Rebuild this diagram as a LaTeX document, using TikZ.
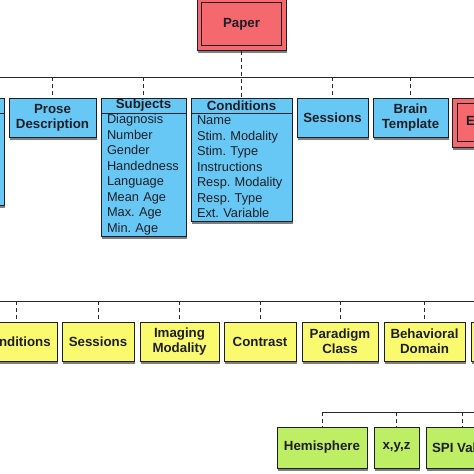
\documentclass[tikz,border=0pt]{standalone}
\usepackage{fontspec}
\setmainfont{Liberation Sans}
\frenchspacing
\usetikzlibrary{shadows}
\definecolor{redfill}{RGB}{245,104,110}
\definecolor{bluefill}{RGB}{104,200,245}
\definecolor{yelfill}{RGB}{250,250,110}
\definecolor{grnfill}{RGB}{190,238,100}
\definecolor{edgecol}{RGB}{30,30,38}
\definecolor{buscol}{RGB}{40,40,40}
\tikzset{
  boxbase/.style={draw=edgecol, line width=1pt, inner sep=0pt, align=center,
    text=edgecol, font=\fontsize{13.3}{15}\selectfont\bfseries,
    drop shadow={shadow xshift=0.6pt, shadow yshift=-3pt, opacity=0.5, fill=black}},
  bluenode/.style={boxbase, fill=bluefill},
  rednode/.style={boxbase, fill=redfill},
  yelnode/.style={boxbase, fill=yelfill, minimum height=39pt},
  grnnode/.style={boxbase, fill=grnfill, minimum height=41pt},
  hdrnode/.style={bluenode, minimum height=15pt},
  listnode/.style={bluenode, font=\fontsize{12.8}{15.5}\selectfont, align=left, inner xsep=6pt},
  bus/.style={draw=buscol, line width=0.9pt},
  dashlink/.style={draw=buscol, line width=1pt, dash pattern=on 4pt off 3pt},
  innerframe/.style={draw=edgecol, line width=1pt}
}
\begin{document}
\begin{tikzpicture}[x=1pt, y=-1pt]
\useasboundingbox (0,0) rectangle (474,474);

% ---------- root ----------
\node[rednode, minimum width=89pt, minimum height=52pt] (paper) at (241.5,24) {Paper};
\draw[innerframe] ([shift={(5pt,-5pt)}]paper.north west) rectangle ([shift={(-5pt,5pt)}]paper.south east);

% ---------- top row ----------
\node[hdrnode, minimum width=84pt] (lefth) at (-38,105.5) {};
\node[listnode, text width=72pt, minimum height=92pt] (leftb) at (-38,159) {};

\node[bluenode, minimum width=87pt, minimum height=39pt] (prose) at (52.5,117.5) {Prose\\Description};

\node[hdrnode, minimum width=85pt] (subjh) at (143.5,105.5) {Subjects};
\node[listnode, text width=73pt, minimum height=123pt] (subjb) at (143.5,174.5)
  {Diagnosis\\Number\\Gender\\Handedness\\Language\\Mean Age\\Max. Age\\Min. Age};

\node[hdrnode, minimum width=101pt] (condh) at (241.5,105.5) {Conditions};
\node[listnode, text width=89pt, minimum height=108pt] (condb) at (241.5,167)
  {Name\\Stim. Modality\\Stim. Type\\Instructions\\Resp. Modality\\Resp. Type\\Ext. Variable};

\node[bluenode, minimum width=71pt, minimum height=39pt] (sess1) at (332.5,117.5) {Sessions};
\node[bluenode, minimum width=75pt, minimum height=39pt] (brain) at (410.5,117.5) {Brain\\Template};

\node[rednode, minimum width=108pt, minimum height=49pt] (expt) at (506,122.5) {Experiments};
\draw[innerframe] ([shift={(6pt,-6pt)}]expt.north west) rectangle ([shift={(-6pt,6pt)}]expt.south east);

% top bus
\coordinate (busAl) at (-60,77);
\coordinate (busAr) at (540,77);
\draw[bus] (busAl) -- (busAr);
\draw[dashlink] (paper.south) -- (condh.north);
\foreach \n in {lefth,prose,subjh,sess1,brain,expt}
  \draw[dashlink] (\n.north |- busAl) -- (\n.north);

% ---------- second row ----------
\node[yelnode, minimum width=82pt] (cond2) at (16,341.5) {Conditions};
\node[yelnode, minimum width=72pt] (sess2) at (98,341.5) {Sessions};
\node[yelnode, minimum width=79pt] (imag) at (179.5,341.5) {Imaging\\Modality};
\node[yelnode, minimum width=72pt] (contr) at (260,341.5) {Contrast};
\node[yelnode, minimum width=76pt] (parad) at (340,341.5) {Paradigm\\Class};
\node[yelnode, minimum width=81pt] (behav) at (424.5,341.5) {Behavioral\\Domain};
\node[yelnode, minimum width=76pt] (nextY) at (509,341.5) {};

\coordinate (busBl) at (-60,301);
\coordinate (busBr) at (560,301);
\draw[bus] (busBl) -- (busBr);
\foreach \n in {cond2,sess2,imag,contr,parad,behav,nextY}
  \draw[dashlink] (\n.north |- busBl) -- (\n.north);

% ---------- third row ----------
\node[grnnode, minimum width=90pt] (hemi) at (322,447.5) {Hemisphere};
\node[grnnode, minimum width=45pt] (xyz) at (396.5,447.5) {x,y,z};
\node[grnnode, minimum width=72pt] (spi) at (462,447.5) {SPI Value};

\coordinate (busCr) at (560,412);
\draw[bus] (hemi.north |- busCr) -- (busCr);
\foreach \n in {hemi,xyz,spi}
  \draw[dashlink] (\n.north |- busCr) -- (\n.north);
\end{tikzpicture}
\end{document}
